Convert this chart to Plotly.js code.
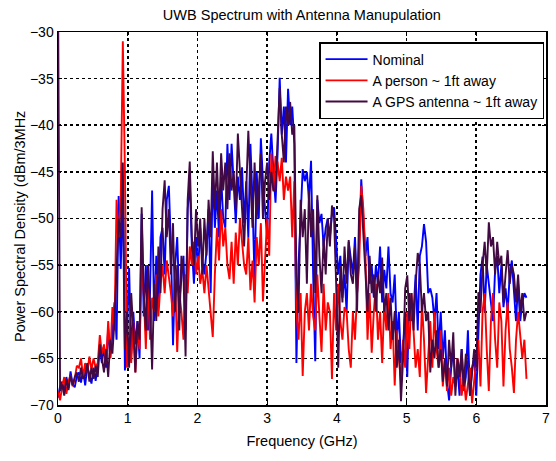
<!DOCTYPE html>
<html>
<head>
<meta charset="utf-8">
<script src="https://cdn.plot.ly/plotly-3.0.1.min.js"></script>
<style>
  html, body { margin: 0; padding: 0; background: #fff; }
  #plot { width: 556px; height: 461px; }
</style>
</head>
<body>
<div id="plot"></div>
<script>
// Frequency grid (GHz): 0 to 6.72 in 30 MHz bins
const F_START = 0;
const F_STEP = 0.03;

// PSD, dBm/3MHz — nominal setup
const nominal = [
  -69.2,-68.0,-67.5,-68.6,-67.0,-68.2,-66.4,-67.8,-68.1,-66.9,
  -66.5,-67.6,-66.2,-67.9,-65.8,-66.8,-67.7,-66.0,-67.4,-65.6,
  -64.0,-65.5,-63.8,-66.0,-61.8,-64.9,-62.5,-59.0,-63.0,-47.6,
  -55.4,-46.5,-66.3,-62.0,-55.3,-64.5,-60.0,-63.5,-61.0,-65.0,
  -49.5,-60.5,-55.0,-62.0,-58.0,-47.0,-61.0,-54.0,-59.0,-52.0,
  -51.0,-56.0,-48.0,-46.5,-53.0,-63.6,-55.0,-52.0,-59.0,-56.5,
  -54.0,-62.0,-49.0,-46.0,-53.0,-57.0,-52.0,-55.5,-51.0,-54.5,
  -56.0,-53.5,-49.0,-58.0,-45.0,-51.0,-47.0,-52.0,-45.5,-50.0,
  -51.0,-42.0,-48.0,-42.0,-47.0,-50.5,-45.5,-48.0,-44.5,-50.5,
  -46.0,-52.0,-42.0,-48.0,-56.8,-45.0,-50.0,-41.4,-46.0,-49.0,
  -52.0,-44.0,-40.9,-45.0,-48.3,-43.0,-34.9,-41.0,-38.0,-44.0,
  -36.1,-40.0,-38.0,-42.0,-65.5,-55.0,-50.0,-44.7,-46.0,-45.0,
  -48.0,-43.8,-56.0,-65.3,-48.0,-50.5,-49.5,-53.0,-51.0,-50.0,
  -52.0,-49.5,-48.8,-53.0,-56.0,-54.0,-58.5,-56.0,-60.0,-52.5,
  -54.5,-56.0,-52.0,-58.0,-52.5,-45.8,-50.0,-54.0,-52.0,-57.0,
  -55.0,-58.5,-55.0,-57.0,-53.0,-59.0,-55.5,-57.5,-53.0,-58.0,
  -59.0,-56.0,-63.0,-60.0,-65.5,-64.0,-60.0,-67.0,-58.0,-61.0,
  -60.0,-56.0,-62.0,-54.0,-53.0,-50.6,-52.5,-58.0,-57.5,-58.5,
  -61.0,-58.0,-64.0,-60.0,-65.0,-62.0,-67.5,-69.5,-66.0,-64.0,
  -68.0,-66.0,-69.0,-64.0,-68.5,-67.0,-62.0,-69.0,-66.0,-65.0,
  -69.0,-62.0,-56.0,-54.1,-60.0,-55.0,-57.0,-59.0,-61.0,-55.5,
  -54.0,-58.0,-55.0,-59.5,-57.5,-60.0,-56.0,-54.5,-58.0,-61.0,
  -57.0,-61.0,-59.0,-58.0,-58.5
];

// PSD with a person standing about 1 ft from the antenna
const person = [
  -68.5,-69.5,-68.0,-67.0,-68.8,-67.5,-66.8,-68.0,-67.2,-65.8,
  -66.0,-65.0,-67.0,-65.5,-66.5,-64.8,-66.2,-65.0,-66.0,-65.5,
  -62.5,-64.5,-63.5,-65.5,-61.0,-65.0,-59.5,-62.0,-48.0,-52.0,
  -48.0,-31.0,-45.0,-66.0,-63.0,-65.5,-61.0,-66.5,-62.0,-64.0,
  -55.0,-58.0,-64.0,-56.5,-63.0,-58.5,-60.0,-56.0,-60.5,-57.0,
  -55.0,-58.0,-54.5,-56.0,-58.0,-60.5,-56.5,-64.3,-58.0,-60.0,
  -63.0,-56.0,-58.0,-53.0,-55.0,-52.5,-56.0,-54.0,-57.0,-55.5,
  -58.0,-55.0,-57.5,-60.0,-62.7,-56.0,-51.0,-54.5,-49.0,-53.0,
  -51.0,-55.0,-56.5,-52.5,-57.0,-51.5,-55.0,-50.0,-53.0,-55.0,
  -56.0,-52.0,-57.7,-54.5,-59.0,-52.0,-55.0,-50.5,-58.9,-55.0,
  -50.0,-54.0,-43.0,-47.0,-43.3,-44.0,-46.0,-43.5,-48.0,-45.5,
  -47.0,-45.5,-52.0,-46.0,-60.0,-63.0,-58.0,-66.9,-60.0,-58.0,
  -62.0,-57.0,-60.5,-62.0,-56.0,-60.5,-64.3,-57.0,-62.0,-59.0,
  -60.0,-67.2,-58.0,-62.0,-57.0,-61.0,-63.0,-59.5,-60.0,-64.0,
  -66.0,-60.0,-63.0,-58.0,-55.0,-46.5,-49.0,-54.0,-63.0,-58.0,
  -64.4,-60.0,-57.0,-63.0,-60.0,-65.5,-59.0,-62.0,-58.0,-64.0,
  -61.0,-67.9,-62.0,-65.0,-67.5,-63.0,-66.0,-60.0,-64.0,-58.0,
  -62.0,-66.0,-64.0,-67.0,-59.0,-63.0,-68.7,-65.0,-61.0,-66.0,
  -60.0,-64.0,-66.0,-62.0,-68.0,-65.0,-68.5,-66.0,-69.0,-67.0,
  -68.0,-65.0,-66.0,-69.0,-67.0,-69.5,-68.0,-66.0,-69.8,-67.0,
  -65.0,-63.0,-68.0,-60.0,-58.0,-64.0,-68.5,-61.0,-58.0,-63.0,
  -66.0,-59.0,-61.0,-68.0,-62.0,-59.0,-64.0,-66.0,-68.7,-63.0,
  -60.0,-62.5,-65.0,-63.0,-67.2
];

// PSD with a GPS antenna about 1 ft away
const gpsAntenna = [
  -25.0,-68.5,-67.8,-69.0,-67.2,-68.4,-66.8,-67.9,-67.0,-66.5,
  -67.5,-66.0,-67.2,-66.8,-65.5,-67.5,-66.0,-67.2,-65.8,-67.0,
  -63.5,-65.0,-66.5,-64.0,-67.0,-63.0,-64.5,-61.0,-55.0,-50.0,
  -52.0,-44.0,-64.0,-60.0,-66.0,-58.0,-62.0,-66.5,-61.0,-63.0,
  -48.8,-58.0,-62.0,-55.0,-59.0,-66.2,-57.0,-61.0,-53.0,-58.0,
  -49.0,-45.9,-52.0,-49.0,-56.0,-50.5,-60.0,-55.0,-62.0,-54.0,
  -56.0,-64.8,-48.0,-43.9,-52.0,-55.0,-49.0,-53.0,-50.0,-56.0,
  -50.0,-54.0,-48.0,-52.0,-42.8,-49.0,-44.0,-50.0,-43.0,-47.0,
  -44.0,-49.0,-43.0,-47.0,-45.0,-49.0,-40.9,-45.0,-48.0,-53.0,
  -47.0,-40.6,-46.0,-51.0,-44.0,-50.0,-47.0,-43.0,-50.0,-46.0,
  -44.0,-48.0,-45.0,-47.0,-47.0,-42.0,-36.0,-41.0,-44.0,-38.0,
  -40.0,-37.5,-41.0,-40.0,-56.0,-60.0,-48.0,-52.0,-49.0,-57.0,
  -47.0,-52.0,-49.0,-58.0,-47.5,-54.0,-58.0,-52.0,-56.0,-50.0,
  -53.0,-48.6,-50.0,-57.0,-66.0,-55.0,-59.0,-53.0,-57.0,-52.3,
  -56.0,-57.0,-53.0,-60.0,-49.0,-47.5,-52.0,-57.0,-60.0,-54.0,
  -58.0,-56.0,-60.0,-56.0,-58.0,-54.2,-60.0,-58.0,-62.0,-58.5,
  -63.0,-60.0,-66.0,-63.0,-69.6,-65.0,-57.5,-56.1,-61.0,-58.0,
  -62.0,-57.0,-53.7,-55.0,-60.0,-58.0,-61.0,-60.0,-66.5,-63.0,
  -65.0,-62.0,-66.0,-64.0,-67.5,-65.0,-68.0,-63.0,-66.0,-62.2,
  -69.0,-65.0,-67.0,-64.0,-68.0,-64.5,-66.0,-69.0,-66.0,-64.0,
  -66.0,-57.9,-60.0,-55.0,-52.5,-56.0,-50.4,-53.0,-52.0,-56.0,
  -52.5,-55.0,-54.0,-59.0,-56.0,-53.4,-57.0,-55.0,-56.0,-59.0,
  -56.0,-60.0,-58.0,-61.0,-60.0
];

const seriesNames = ["Nominal", "A person ~ 1ft away", "A GPS antenna ~ 1ft away"];
const seriesColors = ["#0000ff", "#ff0000", "#420a42"];
const xTicks = [0, 1, 2, 3, 4, 5, 6, 7];
const yTicks = [-70, -65, -60, -55, -50, -45, -40, -35, -30];

const freq = nominal.map((_, i) => +(F_START + i * F_STEP).toFixed(2));

const traces = [nominal, person, gpsAntenna].map((vals, k) => ({
  x: freq,
  y: vals,
  type: "scatter",
  mode: "lines",
  name: seriesNames[k],
  line: { color: seriesColors[k], width: 1.9 }
}));

const FONT = "Liberation Sans, Arial, sans-serif";

const axisCommon = {
  showline: true,
  mirror: "ticks",
  linecolor: "#000",
  linewidth: 1.5,
  ticks: "inside",
  ticklen: 4,
  tickcolor: "#000",
  showgrid: true,
  gridcolor: "#000",
  griddash: "dot",
  gridwidth: 1.6,
  zeroline: false,
  tickfont: { family: FONT, size: 14, color: "#000" }
};

const layout = {
  width: 556,
  height: 461,
  margin: { l: 58, r: 10, t: 32, b: 56 },
  paper_bgcolor: "#fff",
  plot_bgcolor: "#fff",
  font: { family: FONT, color: "#000" },
  title: {
    text: "UWB Spectrum with Antenna Manupulation",
    font: { family: FONT, size: 14.5, color: "#000" },
    x: 0.543, xanchor: "center",
    y: 0.968, yanchor: "middle"
  },
  xaxis: Object.assign({}, axisCommon, {
    range: [0, 7],
    tickvals: xTicks,
    title: { text: "Frequency (GHz)", font: { family: FONT, size: 14.5 }, standoff: 10 }
  }),
  yaxis: Object.assign({}, axisCommon, {
    range: [-70, -30],
    tickvals: yTicks
  }),
  annotations: [{
    text: "Power Spectral Density (dBm/3MHz",
    xref: "paper", yref: "paper",
    x: -0.078, y: 0.48,
    xanchor: "center", yanchor: "middle",
    textangle: -90,
    showarrow: false,
    font: { family: FONT, size: 14.5, color: "#000" }
  }],
  legend: {
    x: 0.996, y: 0.973,
    xanchor: "right", yanchor: "top",
    bgcolor: "#fff",
    bordercolor: "#000",
    borderwidth: 1.5,
    font: { family: FONT, size: 14, color: "#000" },
    tracegroupgap: 0,
    itemwidth: 42
  },
  showlegend: true
};

Plotly.newPlot("plot", traces, layout, { displayModeBar: false, staticPlot: true });
</script>
</body>
</html>
